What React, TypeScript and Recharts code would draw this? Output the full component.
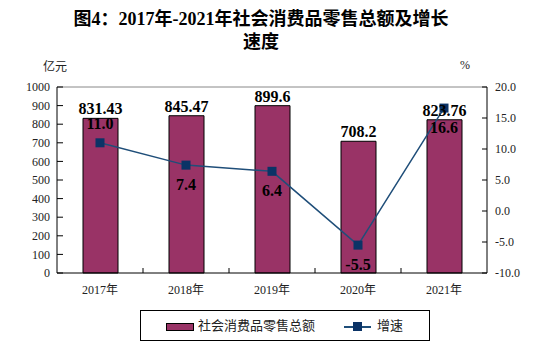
import React from 'react';
import {
  ComposedChart,
  Bar,
  Line,
  XAxis,
  YAxis,
  LabelList,
  ReferenceLine,
} from 'recharts';

// data
const years = ['2017年', '2018年', '2019年', '2020年', '2021年'];
const retailTotal = [831.43, 845.47, 899.6, 708.2, 823.76];
const growthRate = [11.0, 7.4, 6.4, -5.5, 16.6];
const leftTicks = [0, 100, 200, 300, 400, 500, 600, 700, 800, 900, 1000];
const rightTicks = [-10, -5, 0, 5, 10, 15, 20];
const growthLabelSide = [-1, 1, 1, 1, 1]; // -1 above, 1 below

const chartData = years.map((year, i) => ({
  year,
  total: retailTotal[i],
  growth: growthRate[i],
}));

const serif = '"Liberation Serif", "Times New Roman", "Noto Sans CJK SC", serif';
const BAR_COLOR = '#993366';
const LINE_COLOR = '#1f4e79';
const MARKER_COLOR = '#0b3366';

const SquareDot = (props: any) => {
  const { cx, cy } = props;
  if (cx == null || cy == null) return null;
  return <rect x={cx - 4.5} y={cy - 4.5} width={9} height={9} fill={MARKER_COLOR} />;
};

const XTick = (props: any) => {
  const { x, y, payload, index } = props;
  const half = 43; // half a category band
  const axisY = 273;
  return (
    <g>
      {index < years.length - 1 && (
        <line x1={x + half} x2={x + half} y1={axisY} y2={axisY - 5} stroke="#000" />
      )}
      <text x={x} y={axisY + 17} textAnchor="middle" dominantBaseline="central"
        fontSize={12} fontFamily={serif} fill="#222">
        {payload.value}
      </text>
    </g>
  );
};

const GrowthLabel = (props: any) => {
  const { x, y, value, index } = props;
  const side = growthLabelSide[index] ?? 1;
  return (
    <text x={x} y={y + side * 19} textAnchor="middle" dominantBaseline="central"
      fontSize={16} fontWeight="bold" fontFamily={serif} fill="#000">
      {Number(value).toFixed(1)}
    </text>
  );
};

export default function App() {
  return (
    <div style={{ position: 'absolute', left: 0, top: 0, width: 556, height: 354, background: '#fff', fontFamily: serif }}>
      <div style={{ position: 'absolute', left: 0, top: 8, width: 522, textAlign: 'center', fontSize: 18, fontWeight: 'bold', lineHeight: '23px', color: '#000' }}>
        图4：2017年-2021年社会消费品零售总额及增长<br />速度
      </div>
      <div style={{ position: 'absolute', left: 43, top: 57, fontSize: 12, color: '#222' }}>亿元</div>
      <div style={{ position: 'absolute', left: 460, top: 58, fontSize: 12, color: '#222' }}>%</div>

      <ComposedChart
        width={556}
        height={354}
        data={chartData}
        margin={{ top: 87, right: 0, bottom: 0, left: 0 }}
      >
        <XAxis
          dataKey="year"
          yAxisId="left"
          height={81}
          axisLine={{ stroke: '#000' }}
          tickLine={false}
          tick={<XTick />}
          interval={0}
        />
        <YAxis
          yAxisId="left"
          orientation="left"
          width={57}
          domain={[0, 1000]}
          ticks={leftTicks}
          interval={0}
          axisLine={{ stroke: '#000' }}
          tickLine={{ stroke: '#000' }}
          tickSize={-6}
          tickMargin={13}
          tick={{ fontSize: 12, fontFamily: serif, fill: '#222' }}
        />
        <YAxis
          yAxisId="right"
          orientation="right"
          width={69}
          domain={[-10, 20]}
          ticks={rightTicks}
          interval={0}
          axisLine={{ stroke: '#000' }}
          tickLine={{ stroke: '#000' }}
          tickSize={-5}
          tickMargin={13}
          tickFormatter={(v: number) => v.toFixed(1)}
          tick={{ fontSize: 12, fontFamily: serif, fill: '#222' }}
        />
        <ReferenceLine yAxisId="left" y={1000} stroke="#888" />
        <Bar
          yAxisId="left"
          dataKey="total"
          fill={BAR_COLOR}
          stroke="#000"
          strokeWidth={1}
          barSize={35}
          isAnimationActive={false}
        >
          <LabelList
            dataKey="total"
            position="top"
            offset={4}
            style={{ fontSize: 16, fontWeight: 'bold', fontFamily: serif, fill: '#000' }}
          />
        </Bar>
        <Line
          yAxisId="right"
          dataKey="growth"
          stroke={LINE_COLOR}
          strokeWidth={1.5}
          dot={<SquareDot />}
          activeDot={false}
          isAnimationActive={false}
        >
          <LabelList dataKey="growth" content={<GrowthLabel />} />
        </Line>
      </ComposedChart>

      <div style={{ position: 'absolute', left: 140, top: 310, width: 290, height: 31, border: '1px solid #000', boxSizing: 'border-box', fontSize: 13, color: '#222' }}>
        <div style={{ position: 'absolute', left: 25, top: 12, width: 26, height: 6, background: BAR_COLOR, border: '1px solid #000' }} />
        <div style={{ position: 'absolute', left: 57, top: 6, lineHeight: '18px' }}>社会消费品零售总额</div>
        <div style={{ position: 'absolute', left: 203, top: 15, width: 27, height: 1.5, background: LINE_COLOR }} />
        <div style={{ position: 'absolute', left: 212, top: 11, width: 9, height: 9, background: MARKER_COLOR }} />
        <div style={{ position: 'absolute', left: 236, top: 6, lineHeight: '18px' }}>增速</div>
      </div>
    </div>
  );
}
